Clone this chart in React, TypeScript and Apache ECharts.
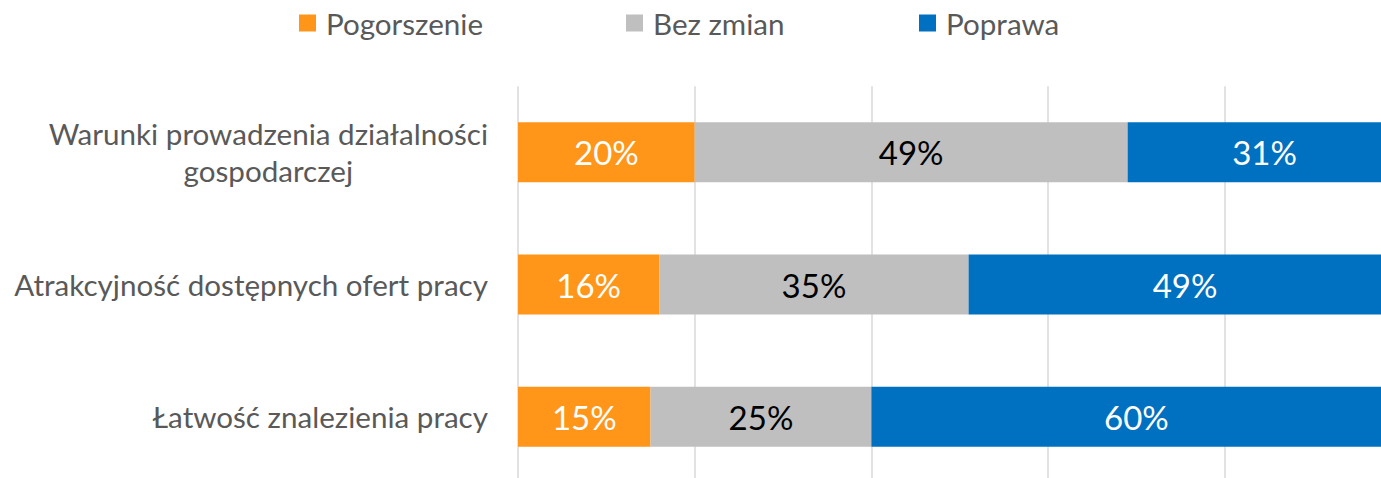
import React, { useEffect, useRef } from "react";
import * as echarts from "echarts";

const categories = [
  "Warunki prowadzenia działalności\ngospodarczej",
  "Atrakcyjność dostępnych ofert pracy",
  "Łatwość znalezienia pracy",
];
const seriesNames = ["Pogorszenie", "Bez zmian", "Poprawa"];
const pogorszenie = [20, 16, 15];
const bezZmian = [49, 35, 25];
const poprawa = [31, 49, 60];
const xMin = 0;
const xMax = 100;
const xInterval = 20;

const COLORS = ["#FF961A", "#BFBFBF", "#0070C0"];
const LABEL_COLORS = ["#FFFFFF", "#000000", "#FFFFFF"];
const LEGEND_LEFT = [299, 626, 919];
const FONT = "Lato";

export default function App() {
  const ref = useRef<HTMLDivElement>(null);

  useEffect(() => {
    if (!ref.current) return;
    const chart = echarts.init(ref.current, undefined, { renderer: "svg" });
    const values = [pogorszenie, bezZmian, poprawa];
    chart.setOption({
      animation: false,
      backgroundColor: "#FFFFFF",
      textStyle: { fontFamily: FONT },
      legend: seriesNames.map((n, i) => ({
        data: [n],
        left: LEGEND_LEFT[i],
        top: 8,
        padding: 0,
        icon: "rect",
        itemWidth: 17,
        itemHeight: 17,
        selectedMode: false,
        textStyle: {
          fontSize: 29.6,
          fontFamily: FONT,
          color: "#595959",
          padding: [0, 0, 0, 5],
        },
      })),
      grid: {
        left: 518,
        right: 0.5,
        top: 86.2,
        bottom: 0.2,
        containLabel: false,
      },
      xAxis: {
        type: "value",
        min: xMin,
        max: xMax,
        interval: xInterval,
        axisLabel: { show: false },
        axisLine: { show: false },
        axisTick: { show: false },
        splitLine: { show: true, lineStyle: { color: "#D9D9D9", width: 1.5 } },
      },
      yAxis: {
        type: "category",
        data: categories,
        inverse: true,
        axisLine: { show: false },
        axisTick: { show: false },
        axisLabel: {
          margin: 30,
          formatter: (v: string) =>
            v
              .split("\n")
              .map((l) => `{c|${l}}`)
              .join("\n"),
          rich: {
            c: {
              align: "center",
              fontSize: 29.6,
              fontFamily: FONT,
              color: "#595959",
              lineHeight: 37,
            },
          },
        },
      },
      series: seriesNames.map((n, i) => ({
        name: n,
        type: "bar",
        stack: "total",
        barWidth: 60,
        data: values[i],
        itemStyle: { color: COLORS[i] },
        label: {
          show: true,
          position: "inside",
          formatter: (p: any) => `${p.value}%`,
          fontSize: 33,
          fontFamily: FONT,
          color: LABEL_COLORS[i],
        },
      })),
    });
    return () => chart.dispose();
  }, []);

  return (
    <div
      style={{
        position: "absolute",
        left: 0,
        top: 0,
        width: 1381,
        height: 478,
        overflow: "hidden",
        background: "#FFFFFF",
      }}
    >
      <div ref={ref} style={{ width: 1402, height: 483 }} />
    </div>
  );
}
